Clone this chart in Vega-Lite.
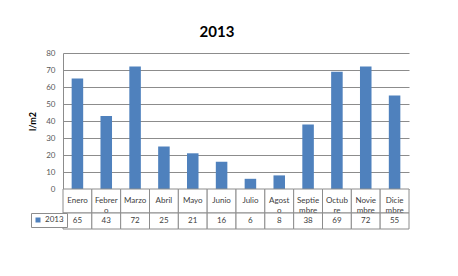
{
  "$schema": "https://vega.github.io/schema/vega-lite/v6.json",
  "width": 346,
  "height": 176,
  "autosize": {"type": "none"},
  "padding": {"left": 63, "top": 53, "right": 49, "bottom": 47},
  "background": "white",
  "config": {"view": {"stroke": null}, "font": "Lato"},
  "title": {"text": "2013", "fontSize": 15, "font": "Lato", "fontWeight": "bold", "color": "#000000", "dx": -19, "offset": 9},
  "data": {
    "values": [
      {"mes": "Enero", "etiqueta": "Enero", "lluvia": 65, "serie": "2013"},
      {"mes": "Febrero", "etiqueta": "Febrer\no", "lluvia": 43, "serie": "2013"},
      {"mes": "Marzo", "etiqueta": "Marzo", "lluvia": 72, "serie": "2013"},
      {"mes": "Abril", "etiqueta": "Abril", "lluvia": 25, "serie": "2013"},
      {"mes": "Mayo", "etiqueta": "Mayo", "lluvia": 21, "serie": "2013"},
      {"mes": "Junio", "etiqueta": "Junio", "lluvia": 16, "serie": "2013"},
      {"mes": "Julio", "etiqueta": "Julio", "lluvia": 6, "serie": "2013"},
      {"mes": "Agosto", "etiqueta": "Agost\no", "lluvia": 8, "serie": "2013"},
      {"mes": "Septiembre", "etiqueta": "Septie\nmbre", "lluvia": 38, "serie": "2013"},
      {"mes": "Octubre", "etiqueta": "Octub\nre", "lluvia": 69, "serie": "2013"},
      {"mes": "Noviembre", "etiqueta": "Novie\nmbre", "lluvia": 72, "serie": "2013"},
      {"mes": "Diciembre", "etiqueta": "Dicie\nmbre", "lluvia": 55, "serie": "2013"}
    ]
  },
  "encoding": {
    "x": {"field": "mes", "type": "nominal", "sort": null, "scale": {"paddingInner": 0, "paddingOuter": 0}, "axis": null}
  },
  "layer": [
    {
      "mark": {"type": "bar", "width": {"band": 0.4}},
      "encoding": {
        "y": {
          "field": "lluvia", "type": "quantitative",
          "scale": {"domain": [0, 80], "range": [136, 0], "nice": false},
          "axis": {
            "title": "l/m2", "titleFontSize": 9, "titleFontWeight": "bold", "titleColor": "#000000", "titlePadding": 8,
            "values": [0, 10, 20, 30, 40, 50, 60, 70, 80],
            "labelFontSize": 8, "labelColor": "#595959", "labelPadding": 8, "ticks": false,
            "domainColor": "#8C8C8C", "gridColor": "#8C8C8C", "grid": true
          }
        },
        "color": {
          "field": "serie", "type": "nominal",
          "scale": {"range": ["#4F81BD"]},
          "legend": {
            "orient": "none", "legendX": -32, "legendY": 160, "title": null,
            "strokeColor": "#8C8C8C", "fillColor": "white", "padding": 3,
            "labelFontSize": 8, "labelColor": "#404040", "symbolType": "square",
            "symbolSize": 25, "symbolStrokeWidth": 0, "labelOffset": 3, "cornerRadius": 0
          }
        }
      }
    },
    {
      "encoding": {"y": {"datum": "cat", "type": "nominal", "scale": {"domain": ["cat"], "range": [136, 160], "paddingInner": 0, "paddingOuter": 0}, "axis": null}},
      "layer": [
        {"mark": {"type": "rect", "fill": "white", "stroke": "#8C8C8C", "strokeWidth": 1}},
        {"mark": {"type": "text", "lineBreak": "\n", "fontSize": 8, "lineHeight": 10, "color": "#404040"}, "encoding": {"text": {"field": "etiqueta"}}}
      ]
    },
    {
      "encoding": {"y": {"datum": "val", "type": "nominal", "scale": {"domain": ["val"], "range": [160, 176], "paddingInner": 0, "paddingOuter": 0}, "axis": null}},
      "layer": [
        {"mark": {"type": "rect", "fill": "white", "stroke": "#8C8C8C", "strokeWidth": 1}},
        {"mark": {"type": "text", "fontSize": 8, "color": "#404040"}, "encoding": {"text": {"field": "lluvia"}}}
      ]
    }
  ],
  "resolve": {"scale": {"y": "independent"}, "axis": {"y": "independent"}}
}
